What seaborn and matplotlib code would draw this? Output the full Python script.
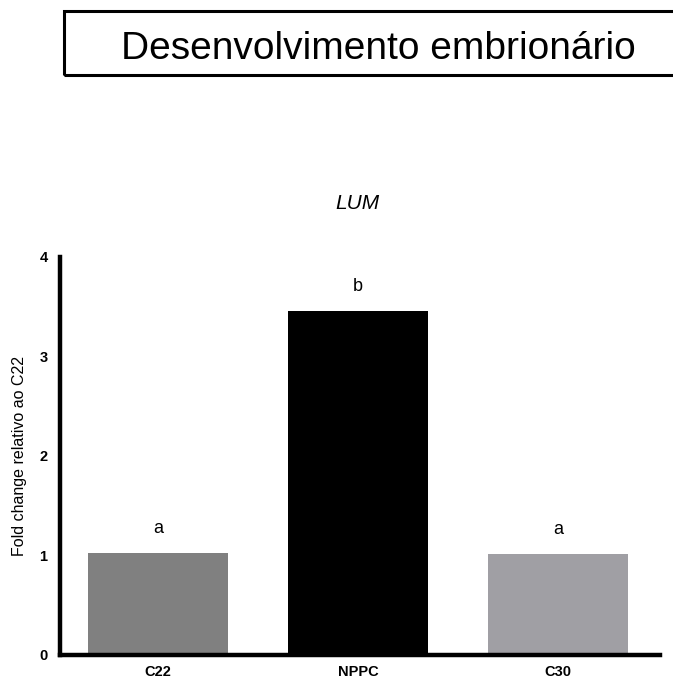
import matplotlib
matplotlib.use("Agg")
import matplotlib.pyplot as plt
import seaborn as sns
import pandas as pd
from matplotlib.patches import Rectangle

# Relative expression of LUM per group
groups = ["C22", "NPPC", "C30"]
fold_change = [1.025, 3.455, 1.015]
letters = ["a", "b", "a"]
bar_colors = ["#808080", "#000000", "#a09fa4"]
y_ticks = [0, 1, 2, 3, 4]

sns.set_theme(style="white")
plt.rcParams["font.family"] = ["Liberation Sans", "DejaVu Sans"]
plt.rcParams["text.color"] = "black"
plt.rcParams["axes.labelcolor"] = "black"

df = pd.DataFrame({"group": groups, "fold": fold_change})

fig = plt.figure(figsize=(6.73, 6.84), dpi=100)
ax = fig.add_axes([0.0892, 0.0424, 0.8918, 0.5819])

sns.barplot(data=df, x="group", y="fold", hue="group", palette=bar_colors,
            width=0.7, legend=False, ax=ax, saturation=1, linewidth=0)

ax.set_xlim(-0.49, 2.51)
ax.set_ylim(0, 4)
ax.set_yticks(y_ticks)
ax.set_yticklabels([str(t) for t in y_ticks], fontweight="bold", fontsize=10.5)
ax.set_xticks(range(len(groups)))
ax.set_xticklabels(groups, fontweight="bold", fontsize=10.5)
ax.set_xlabel("")
ax.set_ylabel("Fold change relativo ao C22", fontsize=11.5, labelpad=9)

for side in ["top", "right"]:
    ax.spines[side].set_visible(False)
for side in ["left", "bottom"]:
    ax.spines[side].set_linewidth(3.2)
    ax.spines[side].set_color("black")
ax.tick_params(axis="both", which="both", direction="out", length=5, width=3.2,
               color="black", labelcolor="black", pad=4)
ax.tick_params(axis="x", pad=2)

# Significance letters above bars
for i, (v, lab) in enumerate(zip(fold_change, letters)):
    ax.text(i, v + 0.16, lab, ha="center", va="bottom", fontsize=13)

# Gene name
fig.text(0.531, 0.703, "LUM", ha="center", va="center", fontsize=15,
         fontstyle="italic")

# Boxed header
fig.patches.append(Rectangle((0.095, 0.891), 0.92, 0.093, transform=fig.transFigure,
                             fill=False, edgecolor="black", linewidth=2.2,
                             clip_on=False))
fig.text(0.562, 0.929, "Desenvolvimento embrionário", ha="center", va="center",
         fontsize=28)

fig.savefig("out.png", dpi=100)
